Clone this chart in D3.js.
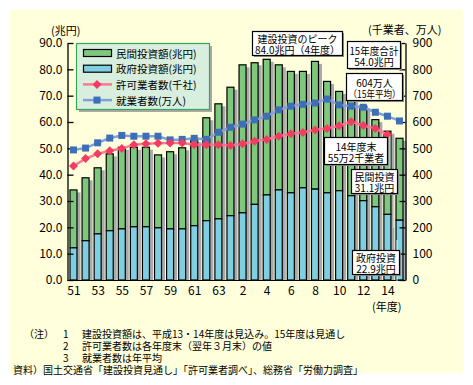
<!DOCTYPE html>
<html><head><meta charset="utf-8">
<script src="https://cdn.jsdelivr.net/npm/d3@7"></script>
<style>
body{margin:0;background:#fff;}
svg{display:block;font-family:"Noto Sans CJK JP","Noto Sans",sans-serif;}
</style></head>
<body>
<svg id="c" width="473" height="385"></svg>
<script>
const categories = ["51","52","53","54","55","56","57","58","59","60","61","62","63","元","2","3","4","5","6","7","8","9","10","11","12","13","14","15"];
const tickLabels = ["51","53","55","57","59","61","63","2","4","6","8","10","12","14"];
const govInv = [12.4,15.1,17.7,18.9,19.6,20.4,20.4,20.0,19.6,19.6,20.8,22.7,23.4,24.6,25.7,28.9,32.5,34.4,33.3,35.2,34.7,33.3,34.1,32.2,30.3,28.0,25.1,22.9];
const privInv = [22.0,23.9,25.1,29.2,31.0,30.2,30.2,27.7,29.3,30.8,32.7,39.1,43.7,48.8,56.2,53.8,51.5,47.5,46.1,44.2,48.5,42.3,37.7,36.5,35.9,33.1,31.6,31.1];
const licensed = [433,461,479,491,499,514,517,519,520,520,514,514,514,511,517,527,534,546,555,560,570,575,586,601,587,575,552,null];
const employed = [494,501,521,539,549,546,546,546,532,534,538,534,561,580,592,608,622,646,660,667,672,687,665,660,656,637,622,604];
const leftTicks = [0,10,20,30,40,50,60,70,80,90];
const rightTicks = [0,100,200,300,400,500,600,700,800,900];
const legendItems = ["民間投資額(兆円)","政府投資額(兆円)","許可業者数(千社)","就業者数(万人)"];
const notes = [
  ["（注）","1","建設投資額は、平成13・14年度は見込み。15年度は見通し"],
  ["","2","許可業者数は各年度末（翌年３月末）の値"],
  ["","3","就業者数は年平均"]
];
const source = "資料）国土交通省「建設投資見通し」「許可業者調べ」、総務省「労働力調査」";

const svg = d3.select("#c");
const C = {bg:"#ffffdc", green:"#7dc87c", blue:"#7fcfe2", shadow:"#a9a9a9",
  redLine:"#ff7890", redMk:"#f23c64", blueLine:"#80a2d8", blueMk:"#3e6eb6"};

svg.append("rect").attr("x",10).attr("y",10).attr("width",453).attr("height",363).attr("fill",C.bg);

const x = d3.scalePoint().domain(categories).range([73.5,399.5]);
const yL = d3.scaleLinear().domain([0,90]).range([280,43]);
const yR = d3.scaleLinear().domain([0,900]).range([280,43]);
const bw = 8;

// bars
const g = svg.append("g");
categories.forEach((c,i)=>{
  const cx = x(c);
  const tot = govInv[i]+privInv[i];
  g.append("rect").attr("x",cx-bw/2+3).attr("y",yL(tot)+3).attr("width",bw).attr("height",yL(0)-yL(tot)-3).attr("fill",C.shadow);
  g.append("rect").attr("x",cx-bw/2+0.5).attr("y",yL(tot)+0.5).attr("width",bw-1).attr("height",yL(govInv[i])-yL(tot)).attr("fill",C.green).attr("stroke","#000").attr("stroke-width",1.2);
  g.append("rect").attr("x",cx-bw/2+0.5).attr("y",yL(govInv[i])+0.5).attr("width",bw-1).attr("height",yL(0)-yL(govInv[i])-0.5).attr("fill",C.blue).attr("stroke","#000").attr("stroke-width",1.2);
});

// axes
const axL = svg.append("g").attr("transform","translate(67.5,0)")
  .call(d3.axisLeft(yL).tickValues(leftTicks).tickFormat(d3.format(".1f")).tickSizeInner(-6).tickSizeOuter(0).tickPadding(5));
const axR = svg.append("g").attr("transform","translate(405.5,0)")
  .call(d3.axisRight(yR).tickValues(rightTicks).tickSizeInner(-6).tickSizeOuter(0).tickPadding(7));
[axL,axR].forEach(a=>{
  a.selectAll("path,line").attr("stroke","#000").attr("stroke-width",1.3);
  a.selectAll("text").attr("font-size",12).attr("fill","#000").attr("font-family","'Noto Sans CJK JP'");
});
svg.append("line").attr("x1",67.5).attr("x2",405.5).attr("y1",280.5).attr("y2",280.5).attr("stroke","#000");
const axB = svg.append("g").attr("transform","translate(0,280)")
  .call(d3.axisBottom(x).tickValues(tickLabels).tickSize(0).tickPadding(6));
axB.select(".domain").remove();
axB.selectAll("text").attr("font-size",12).attr("fill","#000").attr("font-family","'Noto Sans CJK JP'");

// lines
const lineR = d3.line().defined(d=>d!=null).x((d,i)=>x(categories[i])).y(d=>yR(d));
svg.append("path").datum(employed).attr("d",lineR).attr("fill","none").attr("stroke",C.blueLine).attr("stroke-width",2.5);
svg.append("path").datum(licensed).attr("d",lineR).attr("fill","none").attr("stroke",C.redLine).attr("stroke-width",2.5);
const diamond = "M0,-4.5L4.5,0L0,4.5L-4.5,0Z";
employed.forEach((v,i)=>{
  svg.append("rect").attr("x",x(categories[i])-3.5).attr("y",yR(v)-3.5).attr("width",7).attr("height",7).attr("fill",C.blueMk);
});
licensed.forEach((v,i)=>{
  if(v==null) return;
  svg.append("path").attr("d",diamond).attr("transform",`translate(${x(categories[i])},${yR(v)})`).attr("fill",C.redMk);
});

// axis titles
const T = (t,xx,yy,anchor,size)=>svg.append("text").attr("x",xx).attr("y",yy).attr("text-anchor",anchor||"start")
  .attr("font-size",size||12).attr("fill","#000").attr("dominant-baseline","central").text(t);
T("(兆円)",51,30,"start",11);
T("(千業者、万人)",368,28.5,"start",11);
T("(年度)",372,306,"start",11);

// legend
const lg = svg.append("g");
lg.append("rect").attr("x",79).attr("y",46).attr("width",133).attr("height",66).attr("fill",C.shadow);
lg.append("rect").attr("x",76.5).attr("y",43.5).attr("width",133).attr("height",66).attr("fill","#d8efe0").attr("stroke","#3aa655").attr("stroke-width",1.2);
legendItems.forEach((t,i)=>{
  const yy = 53 + i*15.7;
  if(i<2){
    lg.append("rect").attr("x",83.5).attr("y",yy-3.5).attr("width",28).attr("height",7).attr("fill",i==0?C.green:C.blue).attr("stroke","#000").attr("stroke-width",1.2);
  } else {
    lg.append("line").attr("x1",83).attr("x2",112).attr("y1",yy).attr("y2",yy).attr("stroke",i==2?C.redLine:C.blueLine).attr("stroke-width",2.5);
    if(i==2) lg.append("path").attr("d",diamond).attr("transform",`translate(97,${yy})`).attr("fill",C.redMk);
    else lg.append("rect").attr("x",93.5).attr("y",yy-3.5).attr("width",7).attr("height",7).attr("fill",C.blueMk);
  }
  lg.append("text").attr("x",116).attr("y",yy).attr("dominant-baseline","central").attr("font-size",10.5).text(t);
});

// annotation boxes
const boxes = [
  {x:252,y:31,w:90,h:24,t:["建設投資のピーク","84.0兆円（4年度）"]},
  {x:347,y:41,w:53,h:27,t:["15年度合計","54.0兆円"]},
  {x:346,y:73,w:56,h:27,t:["604万人","（15年平均）"]},
  {x:324,y:137,w:63,h:27,t:["14年度末","55万2千業者"]},
  {x:351,y:169,w:46,h:24,t:["民間投資","31.1兆円"]},
  {x:352,y:250,w:47,h:24,t:["政府投資","22.9兆円"]}
];
// leader lines
svg.append("line").attr("x1",390).attr("x2",390).attr("y1",136).attr("y2",170).attr("stroke","#bfe8f0").attr("stroke-width",1);
svg.append("line").attr("x1",394).attr("x2",394).attr("y1",192).attr("y2",228).attr("stroke","#f4f4d0").attr("stroke-width",1);
svg.append("line").attr("x1",397).attr("x2",397).attr("y1",240).attr("y2",282).attr("stroke","#d8f4fa").attr("stroke-width",1);
boxes.forEach(b=>{
  svg.append("rect").attr("x",b.x+2).attr("y",b.y+2).attr("width",b.w).attr("height",b.h).attr("fill","#909090");
  svg.append("rect").attr("x",b.x+0.5).attr("y",b.y+0.5).attr("width",b.w).attr("height",b.h).attr("fill","#fff").attr("stroke","#000").attr("stroke-width",1.2);
  const tx = svg.append("text").attr("text-anchor","middle").attr("font-size",10).attr("dominant-baseline","central");
  b.t.forEach((s,j)=>{
    const ts = tx.append("tspan").attr("x",b.x+b.w/2+0.5).attr("y",b.y+b.h/2+0.5+(j-0.5)*11).text(s);
    const L = ts.node().getComputedTextLength();
    if(L > b.w-4) ts.attr("textLength",b.w-4).attr("lengthAdjust","spacingAndGlyphs");
  });
});

// footnotes
notes.forEach((n,i)=>{
  const yy = 333 + i*12;
  T(n[0],24,yy,"start",10);
  T(n[1],63,yy,"start",10);
  T(n[2],82,yy,"start",10);
});
T(source,13,369,"start",10);
</script>
</body></html>
